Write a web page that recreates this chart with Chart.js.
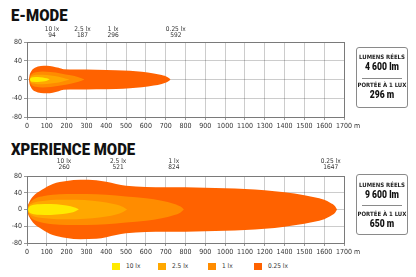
<!DOCTYPE html>
<html>
<head>
<meta charset="utf-8">
<script src="https://cdn.jsdelivr.net/npm/chart.js@4.4.1/dist/chart.umd.min.js"></script>
<style>
    html, body { margin: 0; padding: 0; background: #fff; }
    body { width: 416px; height: 277px; position: relative; overflow: hidden;
           font-family: 'Liberation Sans Narrow', 'DejaVu Sans Condensed', sans-serif; color: #222; }
    .title { position: absolute; left: 11px; font-family: Roboto, sans-serif; font-weight: 900;
             font-size: 17px; line-height: 17px; transform-origin: 0 0; transform: scaleX(0.88); color: #111; }
    canvas { position: absolute; left: 0; }
    .unit { position: absolute; left: 354px; font-size: 7px; line-height: 8px; color: #333; }
    .box { position: absolute; left: 356px; width: 50px; height: 59px; border: 1px solid #8a8a8a; border-radius: 3px; }
    .box div { position: absolute; left: 0; width: 50px; text-align: center; font-weight: bold; color: #222; }
    .box .lbl { font-size: 6px; line-height: 7px; }
    .box .val { font-family: Roboto, sans-serif; font-weight: 900; font-size: 10.5px; line-height: 12px; transform: scaleX(0.82); color: #111; }
    .box .sep { left: 5px; width: 40px; height: 0; border-top: 1px solid #8a8a8a; }
    .legend { position: absolute; top: 263px; left: 0; width: 416px; height: 8px; font-size: 6.5px; color: #333; }
    .legend span { position: absolute; top: 0; line-height: 7px; }
    .legend i { position: absolute; top: 0; width: 8px; height: 7px; }
</style>
</head>
<body>

<div class="title" style="top:7px">E-MODE</div>
<div class="title" style="top:141px">XPERIENCE MODE</div>

<canvas id="eModeChart" style="top:22px" width="360" height="110"></canvas>
<canvas id="xModeChart" style="top:156px" width="360" height="102"></canvas>

<div class="unit" style="top:122px">m</div>
<div class="unit" style="top:248px">m</div>

<div class="box" style="top:47px">
    <div class="lbl" style="top:5px">LUMENS RÉELS</div>
    <div class="val" style="top:13px">4 600 lm</div>
    <div class="sep" style="top:30px"></div>
    <div class="lbl" style="top:33px">PORTÉE À 1 LUX</div>
    <div class="val" style="top:41px">296 m</div>
</div>
<div class="box" style="top:174px">
    <div class="lbl" style="top:6px">LUMENS RÉELS</div>
    <div class="val" style="top:14px">9 600 lm</div>
    <div class="sep" style="top:30px"></div>
    <div class="lbl" style="top:35px">PORTÉE À 1 LUX</div>
    <div class="val" style="top:43px">650 m</div>
</div>

<div class="legend" id="legend"></div>

<script>
    // x tick labels as printed on each chart (one label is skipped on each)
    const E_X_LABELS = ['0', '100', '200', '300', '400', '500', '600', '700', '800', '900', '1000', '1100', '1300', '1400', '1500', '1600', '1700'];
    const X_X_LABELS = ['0', '100', '200', '300', '400', '500', '600', '700', '800', '900', '1000', '1100', '1200', '1400', '1500', '1600', '1700'];

    const LEVELS = ['10 lx', '2.5 lx', '1 lx', '0.25 lx'];
    const LEVEL_COLORS = ['#FFEA00', '#FFA800', '#FF8C00', '#FF6200'];
    const LEGEND_LEFT = [112, 158, 208, 254];

    // labels above the plots: text, value, position on the x axis
    const E_MARK_VALUES = ['94', '187', '296', '592'];
    const E_MARK_POS = [126, 280, 435, 751];
    const X_MARK_VALUES = ['260', '521', '824', '1647'];
    const X_MARK_POS = [187, 460, 741, 1533];

    // E-MODE beam half widths
    const E_10_X = [14, 18, 30, 55, 80, 100, 115];
    const E_10_H = [0, 3, 5, 5.5, 4.5, 2.5, 0];
    const E_25_X = [13, 18, 30, 60, 100, 140, 180, 215];
    const E_25_H = [0, 5, 8.5, 10, 9.5, 7.5, 4, 0];
    const E_1_X = [12, 16, 25, 45, 80, 120, 170, 220, 260, 290];
    const E_1_H = [0, 7, 12, 15.5, 17, 16, 13, 9, 5, 0];
    const E_025_X = [10, 13, 18, 25, 40, 70, 100, 130, 160, 185, 250, 350, 450, 520, 580, 640, 680, 710, 725];
    const E_025_H = [0, 9, 15, 20, 25, 29, 29.5, 28, 25, 22, 21.5, 21, 20, 18.5, 16.5, 13, 9.5, 5, 0];

    // XPERIENCE MODE beam half widths
    const X_10_X = [4, 10, 25, 60, 120, 180, 220, 245, 262];
    const X_10_H = [0, 6, 10, 12.5, 13, 11, 8, 4, 0];
    const X_25_X = [3, 8, 20, 45, 90, 150, 250, 330, 400, 450, 485, 505];
    const X_25_H = [0, 8, 13, 18, 21, 23, 23, 21, 17, 12, 6, 0];
    const X_1_X = [2, 8, 20, 45, 85, 130, 200, 300, 400, 500, 600, 680, 740, 775, 792];
    const X_1_H = [0, 11, 19, 27, 32, 35, 37, 37, 35, 31, 27, 21, 14, 7, 0];
    const X_025_X = [0, 5, 12, 30, 75, 130, 200, 270, 350, 400, 450, 500, 600, 700, 800, 900, 1000, 1100, 1200, 1300, 1400, 1450, 1500, 1530, 1555, 1565];
    const X_025_H = [0, 10, 18, 31, 47, 61, 68, 71, 70, 66, 61, 57, 54, 53, 53, 52, 51, 49, 46, 41, 34, 29, 23, 16, 8, 0];

    const GRID = 'rgba(0, 0, 0, 0.2)';
    const TICK_FONT = { family: "'Liberation Sans Narrow', 'DejaVu Sans Condensed', sans-serif", size: 7 };

    function beamDatasets(shapes) {
        const datasets = [];
        shapes.forEach(function(s, i) {
            const upper = s.x.map(function(v, j) { return { x: v, y: s.h[j] }; });
            const lower = s.x.map(function(v, j) { return { x: v, y: -s.h[j] }; });
            datasets.push({
                label: LEVELS[i], data: upper, fill: '+1', backgroundColor: LEVEL_COLORS[i],
                borderWidth: 0, pointRadius: 0, cubicInterpolationMode: 'monotone'
            });
            datasets.push({
                label: LEVELS[i] + ' low', data: lower, fill: false,
                borderWidth: 0, pointRadius: 0, cubicInterpolationMode: 'monotone'
            });
        });
        return datasets;
    }

    const markLabels = {
        id: 'markLabels',
        afterDraw(chart, args, opts) {
            const ctx = chart.ctx;
            const xs = chart.scales.x;
            const top = chart.chartArea.top;
            ctx.save();
            ctx.fillStyle = '#333';
            ctx.font = "6.5px 'Liberation Sans Narrow', 'DejaVu Sans Condensed', sans-serif";
            ctx.textAlign = 'center';
            ctx.textBaseline = 'middle';
            opts.pos.forEach(function(p, i) {
                const x = xs.getPixelForValue(p);
                ctx.fillText(LEVELS[i], x, top - opts.dy1);
                ctx.fillText(opts.values[i], x, top - opts.dy2);
            });
            ctx.restore();
        }
    };

    const frame = {
        id: 'frame',
        afterDraw(chart) {
            const a = chart.chartArea;
            const ctx = chart.ctx;
            ctx.save();
            ctx.strokeStyle = '#7a7a7a';
            ctx.lineWidth = 1;
            ctx.strokeRect(Math.round(a.left) + 0.5, Math.round(a.top) + 0.5,
                Math.round(a.right - a.left), Math.round(a.bottom - a.top));
            ctx.restore();
        }
    };

    function makeChart(id, shapes, xLabels, markPos, markValues, dy1, dy2) {
        return new Chart(document.getElementById(id), {
            type: 'line',
            data: { datasets: beamDatasets(shapes) },
            options: {
                responsive: false,
                animation: false,
                events: [],
                layout: { padding: { top: 20, right: 16, left: 0, bottom: 0 } },
                plugins: {
                    legend: { display: false },
                    tooltip: { enabled: false },
                    markLabels: { pos: markPos, values: markValues, dy1: dy1, dy2: dy2 }
                },
                scales: {
                    x: {
                        type: 'linear', min: 0, max: 1600, z: 1,
                        afterFit(scale) { scale.height = 15; },
                        ticks: {
                            stepSize: 100, autoSkip: false, maxRotation: 0, padding: 2,
                            color: '#333', font: TICK_FONT,
                            callback: function(v, i) { return xLabels[i]; }
                        },
                        grid: { color: GRID, tickLength: 3, tickColor: '#999' },
                        border: { color: '#7a7a7a' }
                    },
                    y: {
                        min: -80, max: 80, z: 1,
                        afterFit(scale) { scale.width = 27; },
                        ticks: { stepSize: 20, padding: 2, color: '#333', font: TICK_FONT },
                        grid: { color: GRID, tickLength: 3, tickColor: '#999' },
                        border: { color: '#7a7a7a' }
                    }
                }
            },
            plugins: [markLabels, frame]
        });
    }

    makeChart('eModeChart', [
        { x: E_10_X, h: E_10_H }, { x: E_25_X, h: E_25_H }, { x: E_1_X, h: E_1_H }, { x: E_025_X, h: E_025_H }
    ], E_X_LABELS, E_MARK_POS, E_MARK_VALUES, 13, 7);

    makeChart('xModeChart', [
        { x: X_10_X, h: X_10_H }, { x: X_25_X, h: X_25_H }, { x: X_1_X, h: X_1_H }, { x: X_025_X, h: X_025_H }
    ], X_X_LABELS, X_MARK_POS, X_MARK_VALUES, 14.5, 8.5);

    const legend = document.getElementById('legend');
    LEVELS.forEach(function(name, i) {
        const box = document.createElement('i');
        box.style.left = LEGEND_LEFT[i] + 'px';
        box.style.background = LEVEL_COLORS[i];
        legend.appendChild(box);
        const txt = document.createElement('span');
        txt.style.left = (LEGEND_LEFT[i] + 14) + 'px';
        txt.textContent = name;
        legend.appendChild(txt);
    });
</script>
</body>
</html>
